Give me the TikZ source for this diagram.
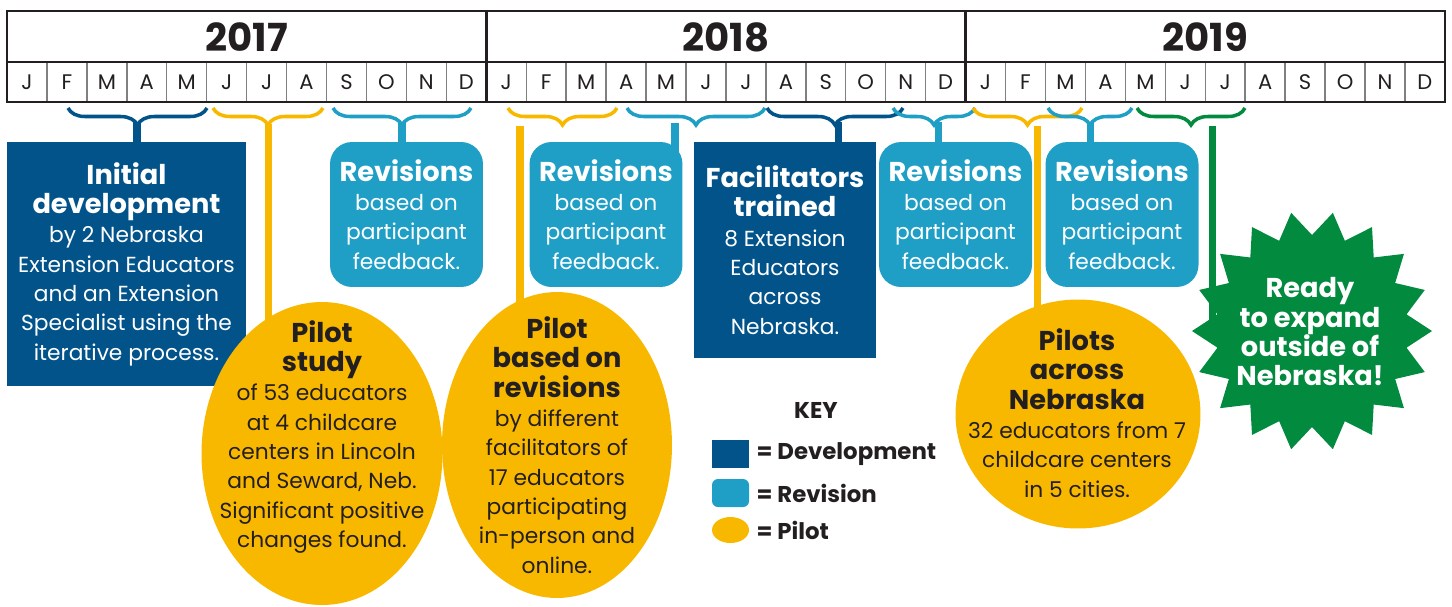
\documentclass[tikz,border=0pt]{standalone}
\usepackage{fontspec}
\setmainfont{Poppins}
\usepackage{xcolor}
\usepackage{tikz}
\usetikzlibrary{shapes.geometric,decorations.pathreplacing,positioning,backgrounds}
\definecolor{devblue}{HTML}{02538A}
\definecolor{revblue}{HTML}{1F9FC6}
\definecolor{pilotyellow}{HTML}{F9B800}
\definecolor{readygreen}{HTML}{028A3F}
\definecolor{inkdark}{HTML}{231F20}
\newcommand{\hd}[1]{{\fontsize{15.5}{16.7}\selectfont\bfseries #1}}

\begin{document}
\begin{tikzpicture}[x=0.02cm,y=-0.02cm]
        \tikzset{year style/.style={font=\fontsize{22}{24}\selectfont\bfseries, text=inkdark}}
        \tikzset{month style/.style={font=\fontsize{12}{14}\selectfont, text=inkdark}}
        \tikzset{box style/.style={rectangle, align=center, inner sep=2pt, text=white, font=\fontsize{12.4}{16.7}\selectfont}}
        \tikzset{dev style/.style={box style, fill=devblue}}
        \tikzset{rev style/.style={box style, fill=revblue, rounded corners=0.44cm, minimum width=3.06cm, minimum height=2.9cm}}
        \tikzset{pilot style/.style={ellipse, fill=pilotyellow, inner sep=0pt}}
        \tikzset{pilot text/.style={align=center, text=inkdark, font=\fontsize{12.4}{16.7}\selectfont}}
        \tikzset{brace style/.style={decorate, decoration={brace, mirror, amplitude=0.34cm}, line width=2pt}}
        \tikzset{stem style/.style={line width=4pt}}
        \tikzset{key style/.style={font=\fontsize{13}{15}\selectfont\bfseries, text=inkdark, inner sep=0pt}}

        \useasboundingbox (0,0) rectangle (1452,606);

        \foreach \i in {1,...,35} \draw[line width=0.8pt, color=gray] (7+39.94*\i,62) -- (7+39.94*\i,102);
        \draw[line width=1.6pt, color=inkdark] (7,11) rectangle (1445,102);
        \draw[line width=1.6pt, color=inkdark] (7,62) -- (1445,62);
        \foreach \x in {486.3,965.6} \draw[line width=1.6pt, color=inkdark] (\x,11) -- (\x,102);

        \foreach \yr [count=\k from 0] in {2017,2018,2019} {
            \node[year style] (year\yr) at (246.7+479.3*\k,37) {\yr};
            \foreach \m [count=\i from 0] in {J,F,M,A,M,J,J,A,S,O,N,D}
                \node[month style] (m\yr-\i) at (27+39.94*12*\k+39.94*\i,82) {\m};
        }

        \foreach \l/\r/\c in {68/207/devblue, 213/323/pilotyellow, 333/471/revblue, 508/617/pilotyellow, 627/765/revblue, 767/903/devblue, 893/975/revblue, 973/1082/pilotyellow, 1048/1132/revblue, 1137/1245/readygreen}
            \draw[brace style, color=\c] (\l,108) -- (\r,108);

        \node[dev style, minimum width=4.78cm, minimum height=4.88cm] (devA) at (126.5,264) {\hd{Initial}\\\hd{development}\\by 2 Nebraska\\Extension Educators\\and an Extension\\Specialist using the\\iterative process.};
        \node[rev style] (revA) at (406.5,214.5) {\hd{Revisions}\\based on\\participant\\feedback.};
        \node[rev style] (revB) at (606,214.5) {\hd{Revisions}\\based on\\participant\\feedback.};
        \node[dev style, minimum width=3.64cm, minimum height=4.32cm] (facB) at (785,250) {\hd{Facilitators}\\\hd{trained}\\8 Extension\\Educators\\across\\Nebraska.};
        \node[rev style] (revC) at (955.5,214.5) {\hd{Revisions}\\based on\\participant\\feedback.};
        \node[rev style] (revD) at (1122,214.5) {\hd{Revisions}\\based on\\participant\\feedback.};

        \node[pilot style, minimum width=4.82cm, minimum height=6.06cm] (pilotA) at (322,453.5) {};
        \node[pilot text] (pilotA-text) at (322,437) {\hd{Pilot}\\\hd{study}\\of 53 educators\\at 4 childcare\\centers in Lincoln\\and Seward, Neb.\\Significant positive\\changes found.};
        \node[pilot style, minimum width=4.6cm, minimum height=6.12cm] (pilotB) at (557,445) {};
        \node[pilot text] (pilotB-text) at (557,445) {\hd{Pilot}\\\hd{based on}\\\hd{revisions}\\by different\\facilitators of\\17 educators\\participating\\in-person and\\online.};
        \node[pilot style, minimum width=4.9cm, minimum height=4.58cm] (pilotC) at (1078,414) {};
        \node[pilot text] (pilotC-text) at (1077,413) {\hd{Pilots}\\\hd{across}\\\hd{Nebraska}\\32 educators from 7\\childcare centers\\in 5 cities.};

        \coordinate (readyC) at (1312,331);
        \fill[readygreen, shift={(readyC)}] (100:120) \foreach \t [evaluate=\t as \r using {isodd(\t) ? 96 : 120}] in {1,...,35} { -- (100+10*\t:\r) } -- cycle;
        \node[align=center, text=white, font=\fontsize{15.5}{16.7}\selectfont\bfseries] (readyC-text) at (1310,332) {Ready\\to expand\\outside of\\Nebraska!};

        \coordinate (devA-top) at (137,122);
        \coordinate (pilotA-top) at (268.5,124);
        \coordinate (revA-top) at (402,122);
        \coordinate (pilotB-top) at (520,126);
        \coordinate (revB-top) at (675,123);
        \coordinate (facB-top) at (838,122);
        \coordinate (revC-top) at (938,122);
        \coordinate (pilotC-top) at (1037,126);
        \coordinate (revD-top) at (1090,122);
        \coordinate (readyC-top) at (1212,126);

        \begin{scope}[on background layer]
            \draw[stem style, color=devblue] (devA-top) -- (devA-top |- devA.center);
            \draw[stem style, color=pilotyellow] (pilotA-top) -- (pilotA-top |- pilotA.center);
            \draw[stem style, color=revblue] (revA-top) -- (revA-top |- revA.center);
            \draw[stem style, color=pilotyellow] (pilotB-top) -- (pilotB-top |- pilotB.center);
            \draw[stem style, color=revblue] (revB-top) -- (revB-top |- revB.center);
            \draw[stem style, color=devblue] (facB-top) -- (facB-top |- facB.center);
            \draw[stem style, color=revblue] (revC-top) -- (revC-top |- revC.center);
            \draw[stem style, color=pilotyellow] (pilotC-top) -- (pilotC-top |- pilotC.center);
            \draw[stem style, color=revblue] (revD-top) -- (revD-top |- revD.center);
            \draw[stem style, color=readygreen] (readyC-top) -- (readyC-top |- readyC);
        \end{scope}

        \node[font=\fontsize{13}{15}\selectfont\bfseries, text=inkdark] (keyT) at (816,410) {KEY};
        \node[rectangle, fill=devblue, minimum width=0.74cm, minimum height=0.56cm, inner sep=0pt] (keyDev) at (730.5,454) {};
        \node[key style, right=0.14cm of keyDev] (keyDevT) {= Development};
        \node[rectangle, fill=revblue, rounded corners=0.12cm, minimum width=0.74cm, minimum height=0.56cm, inner sep=0pt] (keyRev) at (730.5,493) {};
        \node[key style, right=0.14cm of keyRev] (keyRevT) {= Revision};
        \node[ellipse, fill=pilotyellow, minimum width=0.74cm, minimum height=0.52cm, inner sep=0pt] (keyPilot) at (730.5,530) {};
        \node[key style, right=0.14cm of keyPilot] (keyPilotT) {= Pilot};
    \end{tikzpicture}
\end{document}
